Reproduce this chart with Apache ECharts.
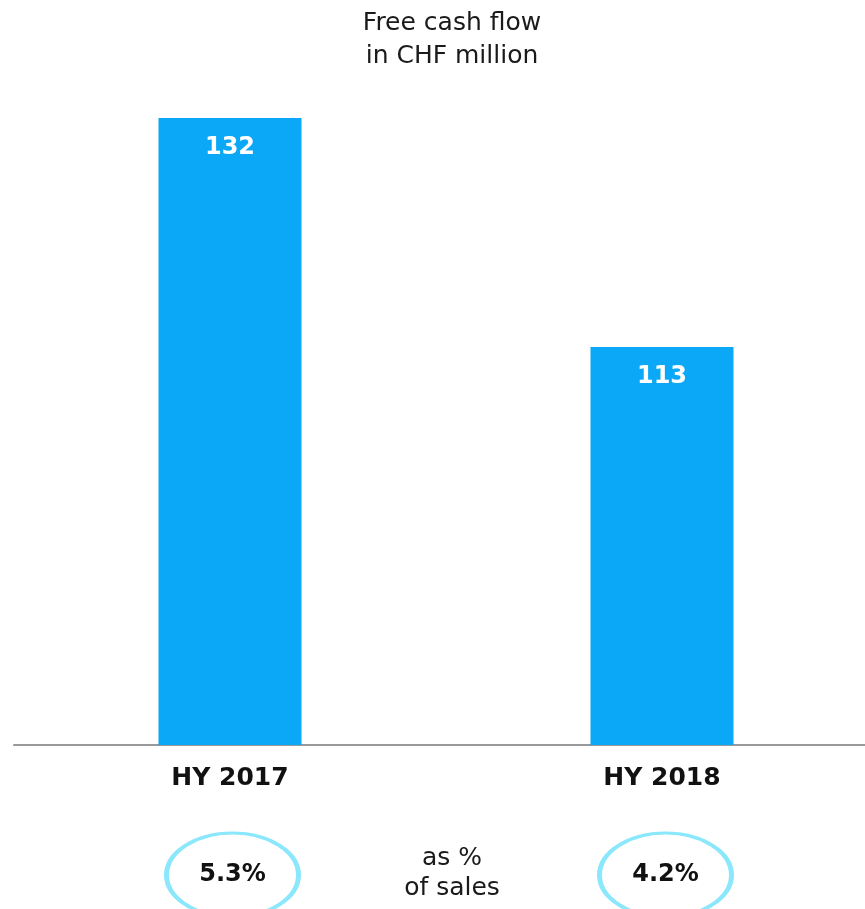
<!DOCTYPE html>
<html>
<head>
<meta charset="utf-8">
<script src="https://cdn.jsdelivr.net/npm/echarts@6/dist/echarts.min.js"></script>
<style>
  html, body { margin: 0; padding: 0; background: #fff; }
  #chart { width: 865px; height: 909px; }
</style>
</head>
<body>
<div id="chart"></div>
<script>
// data
const categories = ['HY 2017', 'HY 2018']
const freeCashFlow = [132, 113]
const pctOfSales = ['5.3%', '4.2%']

const font = '"DejaVu Sans", Verdana, sans-serif'
const chart = echarts.init(document.getElementById('chart'))

chart.setOption({
    animation: false,
    title: [
        {
            text: 'Free cash flow\nin CHF million',
            left: 447,
            top: 2,
            textAlign: 'center',
            textStyle: { fontFamily: font, fontSize: 25, fontWeight: 'normal', color: '#1a1a1a', lineHeight: 33 },
        },
        {
            text: 'as %\nof sales',
            left: 447,
            top: 838,
            textAlign: 'center',
            textStyle: { fontFamily: font, fontSize: 25, fontWeight: 'normal', color: '#1a1a1a', lineHeight: 30 },
        },
    ],
    grid: [
        // plot runs a little past the right edge, like the source slide
        { left: 14, right: -13, top: 118, bottom: 164, outerBoundsMode: 'none' },
        { left: 16, right: -17, top: 825, bottom: -16, outerBoundsMode: 'none' },
    ],
    xAxis: [
        {
            gridIndex: 0,
            type: 'category',
            data: categories,
            axisLine: { lineStyle: { color: '#999', width: 2 } },
            axisTick: { show: false },
            axisLabel: { margin: 21, fontFamily: font, fontSize: 25, fontWeight: 'bold', color: '#111' },
        },
        {
            gridIndex: 1,
            type: 'category',
            data: categories,
            show: false,
        },
    ],
    yAxis: [
        // bars in the picture are not drawn from zero; baseline sits around 80
        { gridIndex: 0, type: 'value', min: 80, max: 132, show: false },
        { gridIndex: 1, type: 'value', min: 0, max: 1, show: false },
    ],
    series: [
        {
            type: 'bar',
            xAxisIndex: 0,
            yAxisIndex: 0,
            data: freeCashFlow,
            barWidth: 143,
            itemStyle: { color: '#0aa8f6' },
            label: {
                show: true,
                position: 'insideTop',
                distance: 18,
                fontFamily: font,
                fontSize: 24,
                fontWeight: 'bold',
                color: '#fff',
            },
        },
        {
            type: 'scatter',
            xAxisIndex: 1,
            yAxisIndex: 1,
            data: pctOfSales.map(() => 0.5),
            symbol: 'circle',
            symbolSize: [132, 84],
            itemStyle: { color: '#fff', borderColor: '#8ae7fc', borderWidth: 4, opacity: 1 },
            label: {
                show: true,
                position: 'inside',
                formatter: (p) => pctOfSales[p.dataIndex],
                fontFamily: font,
                fontSize: 24,
                fontWeight: 'bold',
                color: '#111',
            },
        },
    ],
})
</script>
</body>
</html>
